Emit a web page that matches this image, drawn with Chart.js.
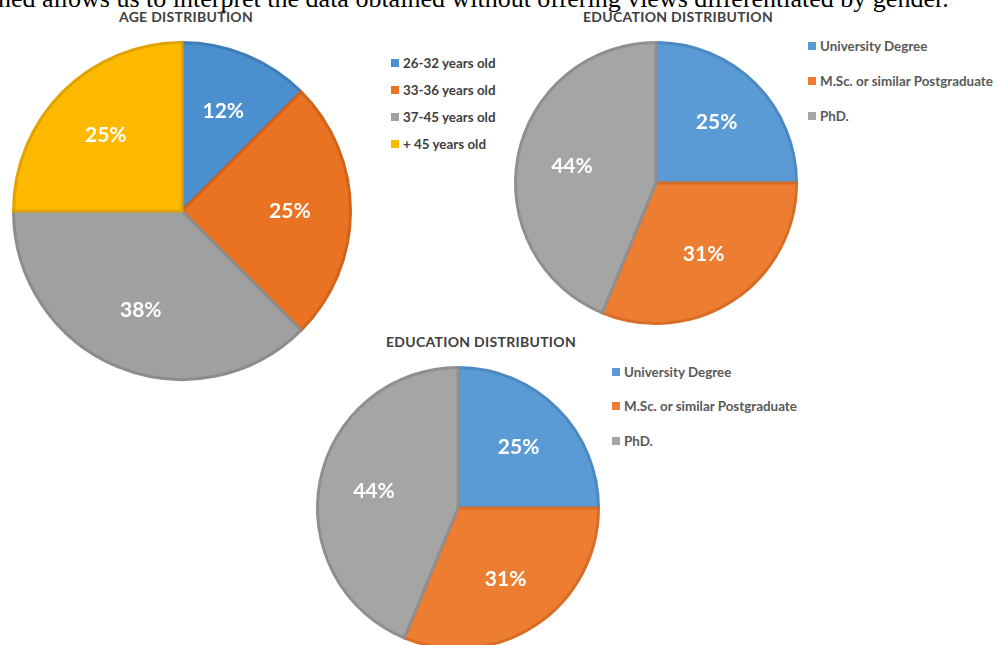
<!DOCTYPE html>
<html>
<head>
<meta charset="utf-8">
<script src="https://cdn.jsdelivr.net/npm/chart.js@4.4.1/dist/chart.umd.min.js"></script>
<style>
  html, body { margin: 0; padding: 0; background: #fff; width: 1001px; height: 645px; overflow: hidden; position: relative; }
  .abs { position: absolute; }
  .intro { position: absolute; left: -2px; top: -14px; font-family: "Liberation Serif", "Times New Roman", serif; font-size: 26px; line-height: 26px; color: #000; white-space: nowrap; }
  .title { position: absolute; font-family: "Lato", "Open Sans", sans-serif; font-weight: bold; font-size: 14px; color: #404040; transform: translate(-50%, -50%); white-space: nowrap; letter-spacing: 0.3px; }
  .leg { position: absolute; font-family: "Lato", "Open Sans", sans-serif; font-weight: bold; font-size: 13.4px; white-space: nowrap; }
  .leg .row { position: absolute; left: 0; display: flex; align-items: center; transform: translateY(-50%); }
  .leg .sw { width: 8px; height: 8px; margin-right: 4px; }
</style>
</head>
<body>
<div class="intro">ned allows us to interpret the data obtained without offering views differentiated by gender.</div>

<div class="title" style="left:186px; top:16px;">AGE DISTRIBUTION</div>
<div class="title" style="left:678px; top:16px;">EDUCATION DISTRIBUTION</div>
<div class="title" style="left:481px; top:341px;">EDUCATION DISTRIBUTION</div>

<canvas id="c1" class="abs" width="346" height="346" style="left:9px; top:38px;"></canvas>
<canvas id="c2" class="abs" width="290" height="290" style="left:511px; top:38px;"></canvas>
<canvas id="c3" class="abs" width="290" height="290" style="left:313px; top:363px;"></canvas>

<div id="l1" class="leg" style="left:391px; top:0px; color:#404040;"></div>
<div id="l2" class="leg" style="left:808px; top:0px; color:#595959;"></div>
<div id="l3" class="leg" style="left:612px; top:0px; color:#595959;"></div>

<script>
// ---- data ----
const ageLabels = ["26-32 years old", "33-36 years old", "37-45 years old", "+ 45 years old"];
const ageValues = [12.5, 25, 37.5, 25];
const ageColors = ["#4C8FCE", "#E97223", "#A0A0A0", "#FDB800"];
const ageBorders = ["#3F7DB8", "#D2631B", "#8C8C8C", "#E2A300"];

const eduLabels = ["University Degree", "M.Sc. or similar Postgraduate", "PhD."];
const eduValues = [25, 31.25, 43.75];
const eduColors = ["#5B9BD5", "#ED7D31", "#A5A5A5"];
const eduBorders = ["#4C89C1", "#D86E26", "#8F8F8F"];

// round half to even (as the source labels show 12% and 38%)
function roundHalfEven(v) {
  const f = Math.floor(v);
  const d = v - f;
  if (Math.abs(d - 0.5) < 1e-9) return (f % 2 === 0) ? f : f + 1;
  return Math.round(v);
}

// ---- label plugin ----
const pctLabels = {
  id: 'pctLabels',
  afterDatasetsDraw(chart, args, opts) {
    const ctx = chart.ctx;
    const meta = chart.getDatasetMeta(0);
    const data = chart.data.datasets[0].data;
    const total = data.reduce((a, b) => a + b, 0);
    ctx.save();
    ctx.fillStyle = '#ffffff';
    ctx.font = 'bold 21px Lato, "Open Sans", sans-serif';
    ctx.textAlign = 'center';
    ctx.textBaseline = 'middle';
    meta.data.forEach((arc, i) => {
      const p = arc.getProps(['x', 'y', 'startAngle', 'endAngle', 'outerRadius'], true);
      const mid = (p.startAngle + p.endAngle) / 2;
      const r = p.outerRadius * (opts.factor || 0.62);
      const x = p.x + Math.cos(mid) * r;
      const y = p.y + Math.sin(mid) * r;
      ctx.fillText(roundHalfEven(data[i] / total * 100) + '%', x, y);
    });
    ctx.restore();
  }
};

function makePie(id, labels, values, colors, borders, factor) {
  new Chart(document.getElementById(id), {
    type: 'pie',
    data: {
      labels: labels,
      datasets: [{
        data: values,
        backgroundColor: colors,
        borderColor: borders,
        borderWidth: 3,
        borderJoinStyle: 'miter'
      }]
    },
    options: {
      responsive: false,
      animation: false,
      layout: { padding: 3 },
      plugins: {
        legend: { display: false },
        tooltip: { enabled: false },
        pctLabels: { factor: factor }
      }
    },
    plugins: [pctLabels]
  });
}

makePie('c1', ageLabels, ageValues, ageColors, ageBorders, 0.64);
makePie('c2', eduLabels, eduValues, eduColors, eduBorders, 0.61);
makePie('c3', eduLabels, eduValues, eduColors, eduBorders, 0.61);

function makeLegend(id, labels, colors, ys) {
  const el = document.getElementById(id);
  labels.forEach((lab, i) => {
    const row = document.createElement('div');
    row.className = 'row';
    row.style.top = ys[i] + 'px';
    const sw = document.createElement('span');
    sw.className = 'sw';
    sw.style.background = colors[i];
    const tx = document.createElement('span');
    tx.textContent = lab;
    row.appendChild(sw);
    row.appendChild(tx);
    el.appendChild(row);
  });
}
makeLegend('l1', ageLabels, ageColors, [63, 90, 117, 144]);
makeLegend('l2', eduLabels, eduColors, [46, 81, 116]);
makeLegend('l3', eduLabels, eduColors, [372, 406, 441]);
</script>
</body>
</html>
